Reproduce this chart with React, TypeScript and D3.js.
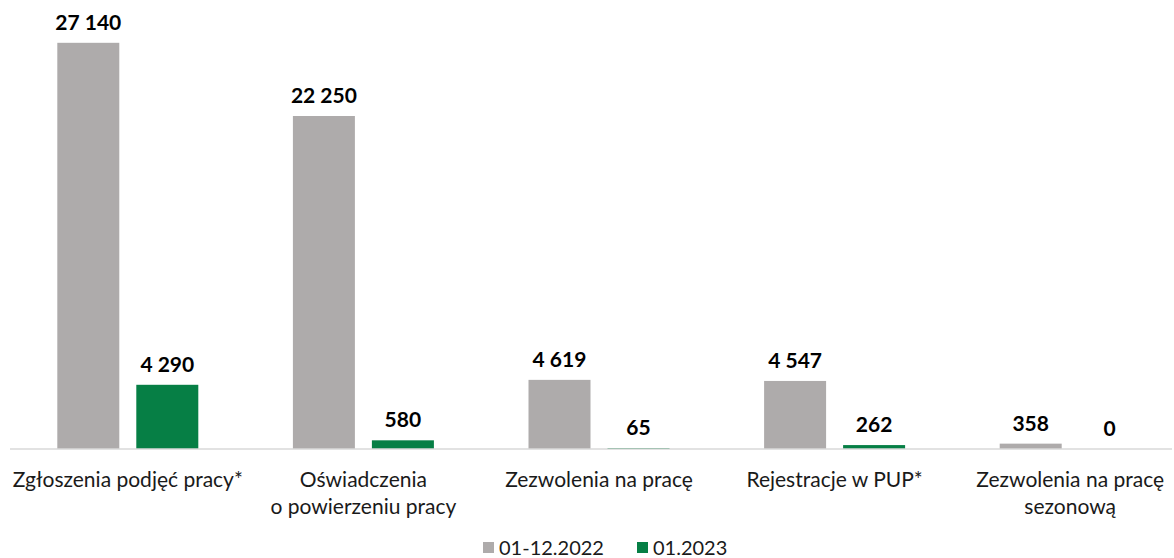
import React from "react";
import * as d3 from "d3";

const categories: string[][] = [
  ["Zgłoszenia podjęć pracy*"],
  ["Oświadczenia", "o powierzeniu pracy"],
  ["Zezwolenia na pracę"],
  ["Rejestracje w PUP*"],
  ["Zezwolenia na pracę", "sezonową"],
];
const seriesNames = ["01-12.2022", "01.2023"];
const values2022 = [27140, 22250, 4619, 4547, 358];
const values2023 = [4290, 580, 65, 262, 0];
const seriesColors = ["#AEABAB", "#067F45"];

const W = 1174;
const H = 558;
const FONT = "Lato, 'Open Sans', 'DejaVu Sans', sans-serif";

const fmt = (v: number) => d3.format(",")(v).replace(/,/g, " ");

export default function App() {
  const idx = categories.map((_, i) => String(i));
  const x0 = d3.scaleBand<string>().domain(idx).range([10, 1188]).padding(0);
  const x1 = d3
    .scaleBand<string>()
    .domain(seriesNames)
    .range([0, 141])
    .paddingInner(17 / 79)
    .paddingOuter(0);
  const y = d3.scaleLinear().domain([0, 30000]).range([449, 0]);
  const series = [values2022, values2023];

  return (
    <svg
      width={W}
      height={H}
      style={{ position: "absolute", left: 0, top: 0, background: "#fff" }}
      fontFamily={FONT}
    >
      <rect width={W} height={H} fill="#fff" />
      {idx.map((k, i) => {
        const gx = x0(k)! + x0.bandwidth() / 2 - 70.5;
        return (
          <g key={k} transform={`translate(${gx},0)`}>
            {seriesNames.map((s, si) => {
              const v = series[si][i];
              const bx = x1(s)!;
              const top = y(v);
              return (
                <g key={s}>
                  <rect
                    x={bx}
                    y={top}
                    width={x1.bandwidth()}
                    height={y(0) - top}
                    fill={seriesColors[si]}
                  />
                  <text
                    x={bx + x1.bandwidth() / 2}
                    y={top - 13}
                    textAnchor="middle"
                    fontWeight="bold"
                    fontSize={21}
                    fill="#000"
                  >
                    {fmt(v)}
                  </text>
                </g>
              );
            })}
          </g>
        );
      })}
      <line x1={10} x2={1172} y1={449} y2={449} stroke="#D9D9D9" strokeWidth={1.6} />
      {categories.map((lines, i) => {
        const cx = x0(String(i))! + x0.bandwidth() / 2;
        return (
          <text key={i} textAnchor="middle" fontSize={21} fill="#1a1a1a">
            {lines.map((ln, li) => (
              <tspan key={li} x={cx} y={487 + li * 27}>
                {ln}
              </tspan>
            ))}
          </text>
        );
      })}
      <g>
        {[
          { x: 483, tx: 499 },
          { x: 637, tx: 653 },
        ].map((p, si) => (
          <g key={si}>
            <rect x={p.x} y={542} width={11} height={11} fill={seriesColors[si]} />
            <text x={p.tx} y={555} fontSize={20} fill="#1a1a1a">
              {seriesNames[si]}
            </text>
          </g>
        ))}
      </g>
    </svg>
  );
}
